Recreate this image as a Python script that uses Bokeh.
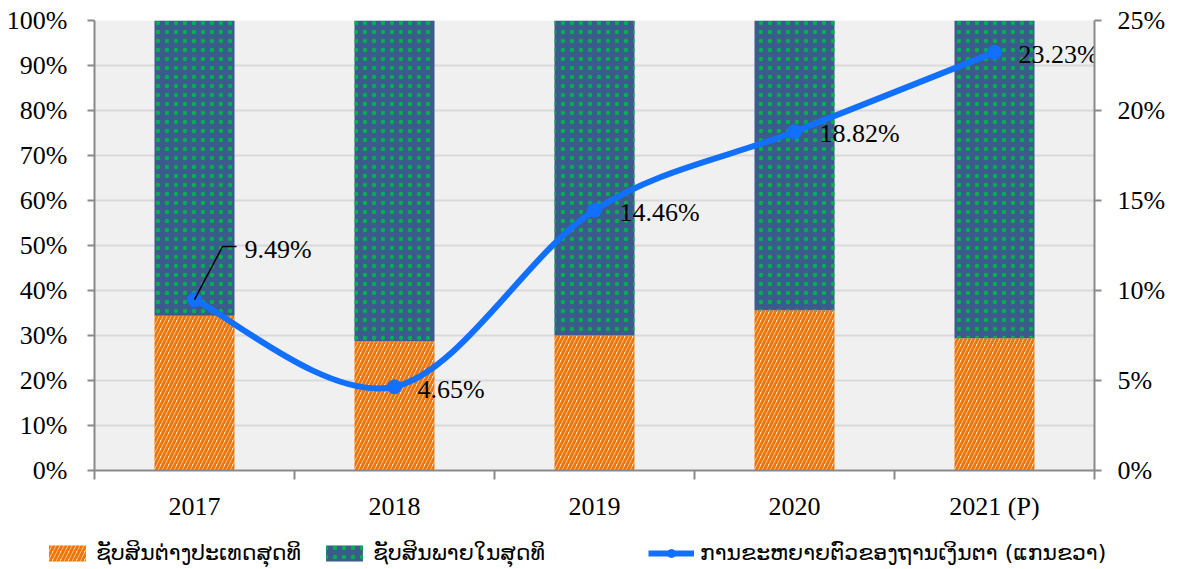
import numpy as np
from bokeh.plotting import figure
from bokeh.models import (Range1d, LinearAxis, FixedTicker, PrintfTickFormatter,
                          Legend, LegendItem, ColumnDataSource)
from bokeh.core.properties import value
from bokeh.embed import file_html
from bokeh.resources import INLINE

# ---------------- data ----------------
years = ["2017", "2018", "2019", "2020", "2021 (P)"]
foreign = [34.4, 28.7, 30.0, 35.6, 29.4]          # % share (left axis)
domestic = [65.6, 71.3, 70.0, 64.4, 70.6]         # % share (left axis)
growth = [9.49, 4.65, 14.46, 18.82, 23.23]        # % growth (right axis)
left_ticks = [0, 10, 20, 30, 40, 50, 60, 70, 80, 90, 100]
right_ticks = [0, 5, 10, 15, 20, 25]
series_names = ["ຊັບສິນຕ່າງປະເທດສຸດທິ", "ຊັບສິນພາຍໃນສຸດທິ",
                "ການຂະຫຍາຍຕົວຂອງຖານເງິນຕາ (ແກນຂວາ)"]

# ---------------- style ----------------
SERIF = "Liberation Serif"
FS = "26px"
AXIS_COL = "#898989"
GRID_COL = "#d9d9d9"
BG = "#f0f0f0"
LINE_COL = "#1170ff"
ORANGE = "#ec760a"
CREAM = "#fde6cf"
BLUE = "#3b5b8c"
GREEN = "#00b04f"
FOREIGN_STYLE = dict(fill_color=CREAM, line_color=None, hatch_pattern="/",
                     hatch_color=ORANGE, hatch_scale=8, hatch_weight=3)
DOMESTIC_STYLE = dict(fill_color=BLUE, line_color=None, hatch_pattern=".",
                      hatch_color=GREEN, hatch_scale=9, hatch_weight=1)
LINE_STYLE = dict(line_color=LINE_COL, line_width=6)
MARK_STYLE = dict(size=14, marker="circle", fill_color=LINE_COL, line_color=LINE_COL)

n = len(years)
xc = np.arange(n) + 0.5
xb = list(range(n + 1))

p = figure(width=1178, height=523, output_backend="svg", toolbar_location=None,
           x_range=Range1d(0, n), y_range=Range1d(0, 100),
           min_border_left=94, min_border_right=84, min_border_top=20, min_border_bottom=53,
           background_fill_color=BG, border_fill_color="white")
p.extra_y_ranges = {"right": Range1d(0, 25)}
p.outline_line_color = None
p.xgrid.visible = False
p.ygrid.grid_line_color = GRID_COL
p.ygrid.grid_line_width = 2
p.ygrid.ticker = FixedTicker(ticks=left_ticks)

# bars
src = ColumnDataSource(dict(x=xc, foreign=foreign,
                            domestic_top=[f + d for f, d in zip(foreign, domestic)]))
p.vbar(x="x", bottom=0, top="foreign", width=0.4, source=src, **FOREIGN_STYLE)
p.vbar(x="x", bottom="foreign", top="domestic_top", width=0.4, source=src, **DOMESTIC_STYLE)

# smoothed line (Catmull-Rom style Bezier segments through the data points)
xs = np.asarray(xc, float)
ys = np.asarray(growth, float)
xp = np.concatenate([[xs[0]], xs, [xs[-1]]])
yp = np.concatenate([[ys[0]], ys, [ys[-1]]])
t = 1 / 6
cx0 = xs[:-1] + (xp[2:-1] - xp[:-3]) * t
cy0 = ys[:-1] + (yp[2:-1] - yp[:-3]) * t
cx1 = xs[1:] - (xp[3:] - xp[1:-2]) * t
cy1 = ys[1:] - (yp[3:] - yp[1:-2]) * t
p.bezier(x0=xs[:-1], y0=ys[:-1], x1=xs[1:], y1=ys[1:],
         cx0=cx0, cy0=cy0, cx1=cx1, cy1=cy1, y_range_name="right", **LINE_STYLE)
p.scatter(x=xs, y=ys, y_range_name="right", **MARK_STYLE)

# leader line for first label
lx = [xs[0], xs[0] + 0.14, xs[0] + 0.21]
ly = [ys[0], ys[0] + 2.95, ys[0] + 2.95]
p.line(lx, ly, line_color="black", line_width=1.5, y_range_name="right")

# data labels
lab_src = ColumnDataSource(dict(x=xs, y=ys, t=[f"{g:.2f}%" for g in growth],
                                dx=[50, 23, 25, 25, 24], dy=[-50, 3, 2, 2, 2]))
p.text(x="x", y="y", text="t", x_offset="dx", y_offset="dy", source=lab_src,
       text_font=value(SERIF), text_font_size=FS, text_color="black",
       text_align="left", text_baseline="middle", y_range_name="right")

# axes
def style_axis(ax):
    ax.axis_line_color = AXIS_COL
    ax.axis_line_width = 2
    ax.major_tick_line_color = AXIS_COL
    ax.major_tick_line_width = 2
    ax.minor_tick_line_color = AXIS_COL
    ax.minor_tick_line_width = 2
    ax.major_tick_in = 0
    ax.major_tick_out = 7
    ax.minor_tick_in = 0
    ax.major_label_text_font = SERIF
    ax.major_label_text_font_size = FS
    ax.major_label_text_color = "black"

ya = p.yaxis[0]
style_axis(ya)
ya.ticker = FixedTicker(ticks=left_ticks)
ya.formatter = PrintfTickFormatter(format="%d%%")
ya.major_label_standoff = 20

yr = LinearAxis(y_range_name="right", ticker=FixedTicker(ticks=right_ticks),
                formatter=PrintfTickFormatter(format="%d%%"))
style_axis(yr)
yr.major_label_standoff = 16
p.add_layout(yr, "right")

xa = p.xaxis[0]
style_axis(xa)
xa.ticker = FixedTicker(ticks=list(xc), minor_ticks=xb)
xa.major_tick_out = 0
xa.minor_tick_out = 9
xa.major_label_overrides = {float(x): y for x, y in zip(xc, years)}
xa.major_label_standoff = 12

# ---------------- legend strip (separate root, same data; marks kept out of view) ----------------
lg = figure(width=1178, height=46, output_backend="svg", toolbar_location=None,
            x_range=Range1d(0, 1), y_range=Range1d(1000, 1001),
            x_axis_location=None, y_axis_location=None,
            min_border_left=0, min_border_right=0, min_border_top=0, min_border_bottom=0,
            background_fill_color="white", border_fill_color="white")
lg.grid.visible = False
lg.outline_line_color = None
g_f = lg.vbar(x="x", bottom=0, top="foreign", width=0.4, source=src, **FOREIGN_STYLE)
g_d = lg.vbar(x="x", bottom="foreign", top="domestic_top", width=0.4, source=src, **DOMESTIC_STYLE)
g_l = lg.line(x=xs, y=ys, **LINE_STYLE)
g_m = lg.scatter(x=xs, y=ys, **MARK_STYLE)

for name, rends, lx0 in [(series_names[0], [g_f], 44),
                         (series_names[1], [g_d], 321),
                         (series_names[2], [g_l, g_m], 648)]:
    lgd = Legend(items=[LegendItem(label=name, renderers=rends)],
                 location=(lx0, 4), glyph_width=46, glyph_height=20,
                 label_standoff=6, padding=0, margin=0, border_line_color=None,
                 background_fill_alpha=0, label_text_font="DejaVu Sans",
                 label_text_font_size="22px", label_text_color="black")
    lg.add_layout(lgd)

open("out.html", "w").write(file_html([p, lg], INLINE))
